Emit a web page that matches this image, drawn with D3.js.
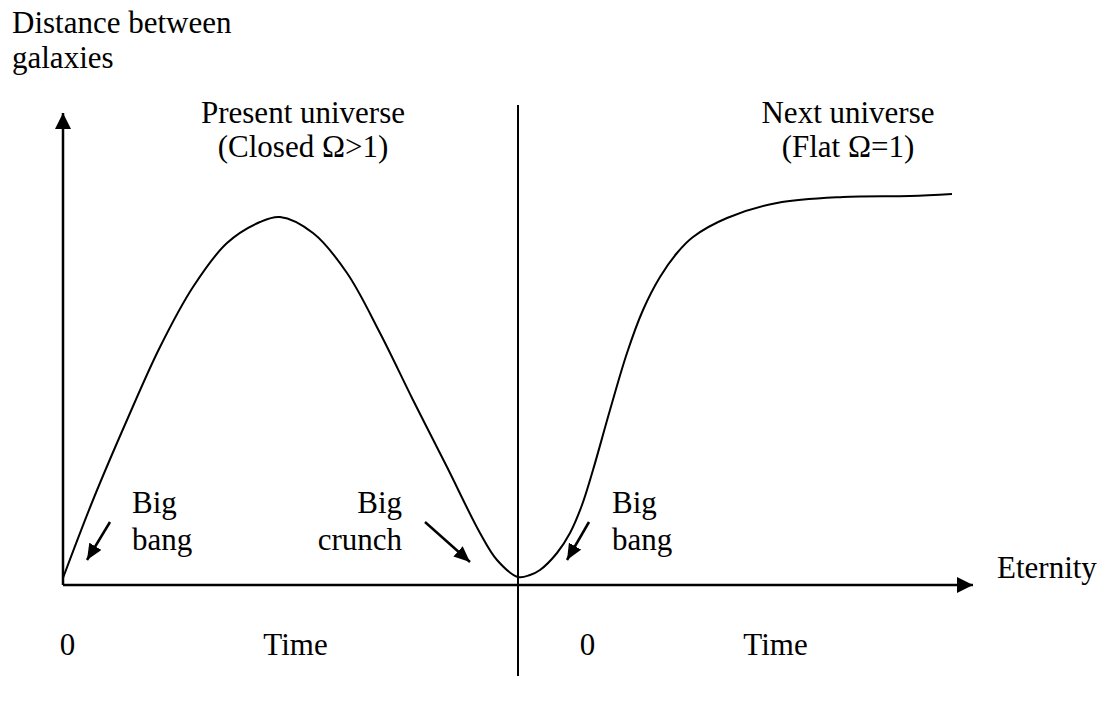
<!DOCTYPE html>
<meta charset="utf-8">
<style>
body {
  margin: 0;
  background-color: #fff;
}
text {
  font-family: "Liberation Serif", "Times New Roman", serif;
  font-size: 31px;
  fill: #000;
}
.axis path {
  stroke: #000;
  stroke-width: 2.5px;
}
.axis text {
  font-family: "Liberation Serif", "Times New Roman", serif;
  font-size: 31px;
}
.curve {
  fill: none;
  stroke: #000;
  stroke-width: 2px;
}
.divider {
  stroke: #000;
  stroke-width: 2px;
}
.pointer {
  stroke: #000;
  stroke-width: 2.5px;
}
</style>
<body>
<svg width="1106" height="705"></svg>
<script src="https://d3js.org/d3.v7.min.js"></script>
<script>
// expansion curve: time (arbitrary units) vs distance between galaxies
var times =     [0, 30, 64, 97, 130, 164, 197, 217, 250, 284, 317, 350, 384, 417, 434, 455,
                 467, 477, 494, 507, 519, 530, 547, 564, 580, 597, 614, 630, 664, 714, 780, 847, 889];
var distances = [1.75, 21.25, 41.25, 59.5, 74.5, 85.5, 90.75, 92, 88, 78, 63, 46.25, 29.5, 13, 6.25, 2,
                 2.5, 3.75, 8, 13, 20, 28.75, 43.75, 58, 68.75, 77, 83, 87, 91.75, 95.5, 97, 97.25, 97.75];

// labels under the time axis
var tickTimes = [4, 232, 524, 712];
var tickLabels = ["0", "Time", "0", "Time"];

// where one universe ends and the next begins
var crunchTime = 455;

var universeNames = ["Present universe", "Next universe"];
var universeTypes = ["(Closed \u03A9>1)", "(Flat \u03A9=1)"];
var universeCenters = [240, 785];

var eventTop = ["Big", "Big", "Big"];
var eventBottom = ["bang", "crunch", "bang"];
var eventTimes = [69, 339, 549];
var eventAnchors = ["start", "end", "start"];
var arrowFrom = [[47, 15.75], [362, 15.75], [526, 15.75]];
var arrowTo = [[24, 6.25], [407, 5.75], [504, 6.25]];

var svg = d3.select("svg"),
    margin = {top: 113, right: 133, bottom: 120, left: 63},
    width = +svg.attr("width") - margin.left - margin.right,
    height = +svg.attr("height") - margin.top - margin.bottom;

var x = d3.scaleLinear().domain([0, 910]).range([0, width]);
var y = d3.scaleLinear().domain([0, 118]).range([height, 0]);

var defs = svg.append("defs");
defs.append("marker")
    .attr("id", "head")
    .attr("viewBox", "0 0 16 16")
    .attr("refX", 16).attr("refY", 8)
    .attr("markerWidth", 16).attr("markerHeight", 16)
    .attr("markerUnits", "userSpaceOnUse")
    .attr("orient", "auto")
  .append("path")
    .attr("d", "M0,0L16,8L0,16Z")
    .attr("fill", "#000");
defs.append("marker")
    .attr("id", "small")
    .attr("viewBox", "0 0 16 14")
    .attr("refX", 16).attr("refY", 7)
    .attr("markerWidth", 16).attr("markerHeight", 14)
    .attr("markerUnits", "userSpaceOnUse")
    .attr("orient", "auto")
  .append("path")
    .attr("d", "M0,0L16,7L0,14Z")
    .attr("fill", "#000");

var g = svg.append("g")
    .attr("transform", "translate(" + margin.left + "," + margin.top + ")");

// axes: bare lines with arrow heads
var xAxis = g.append("g")
    .attr("class", "axis axis--x")
    .attr("transform", "translate(0," + height + ")")
    .call(d3.axisBottom(x).tickValues(tickTimes).tickFormat(function(d, i) { return tickLabels[i]; })
      .tickSize(0).tickSizeOuter(0).tickPadding(48));
xAxis.select(".domain").attr("d", "M0,0H" + width).attr("marker-end", "url(#head)");
xAxis.selectAll("text").attr("fill", "#000");

var yAxis = g.append("g")
    .attr("class", "axis axis--y")
    .call(d3.axisLeft(y).tickValues([]).tickSizeOuter(0));
yAxis.select(".domain").attr("d", "M0," + height + "V0").attr("marker-end", "url(#head)");

svg.append("text")
    .attr("x", 12)
    .attr("y", 33)
    .text("Distance between");
svg.append("text")
    .attr("x", 12)
    .attr("y", 68)
    .text("galaxies");

g.append("text")
    .attr("x", x(910) + 24)
    .attr("y", y(1.75))
    .text("Eternity");

// divider between the two universes
g.append("line")
    .attr("class", "divider")
    .attr("x1", x(crunchTime)).attr("x2", x(crunchTime))
    .attr("y1", y(120)).attr("y2", y(-22.75));

var line = d3.line()
    .x(function(d, i) { return x(times[i]); })
    .y(function(d) { return y(d); })
    .curve(d3.curveCatmullRom.alpha(0.5));

g.append("path")
    .datum(distances)
    .attr("class", "curve")
    .attr("d", line);

universeNames.forEach(function(name, i) {
  g.append("text")
      .attr("x", x(universeCenters[i]))
      .attr("y", y(115.5))
      .attr("text-anchor", "middle")
      .text(name);
  g.append("text")
      .attr("x", x(universeCenters[i]))
      .attr("y", y(107))
      .attr("text-anchor", "middle")
      .text(universeTypes[i]);
});

eventTop.forEach(function(t, i) {
  g.append("text")
      .attr("x", x(eventTimes[i]))
      .attr("y", y(18))
      .attr("text-anchor", eventAnchors[i])
      .text(t);
  g.append("text")
      .attr("x", x(eventTimes[i]))
      .attr("y", y(8.75))
      .attr("text-anchor", eventAnchors[i])
      .text(eventBottom[i]);
  g.append("line")
      .attr("class", "pointer")
      .attr("x1", x(arrowFrom[i][0])).attr("y1", y(arrowFrom[i][1]))
      .attr("x2", x(arrowTo[i][0])).attr("y2", y(arrowTo[i][1]))
      .attr("marker-end", "url(#small)");
});
</script>
